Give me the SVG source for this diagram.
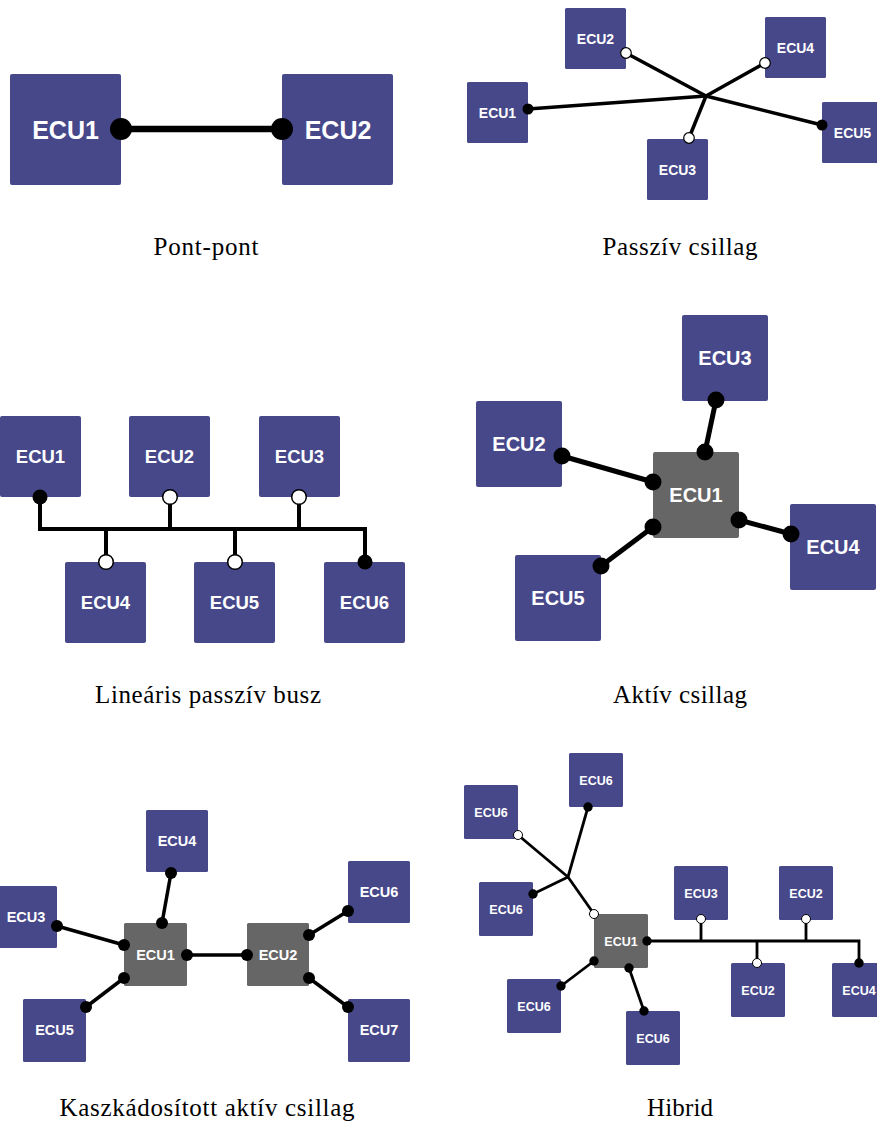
<svg xmlns="http://www.w3.org/2000/svg" width="877" height="1122" viewBox="0 0 877 1122">
  <style>
    .ecu { fill: #47488a; }
    .hub { fill: #666666; }
    .lbl { font-family: "Liberation Sans", Arial, sans-serif; font-weight: bold; fill: #ffffff; text-anchor: middle; }
    .cap { font-family: "Liberation Serif", "Times New Roman", serif; font-size: 25px; fill: #000000; text-anchor: middle; }
    .wire { stroke: #000000; fill: none; stroke-linecap: butt; stroke-linejoin: miter; }
    .on { fill: #000000; }
    .off { fill: #ffffff; stroke: #000000; }
  </style>
  <rect width="877" height="1122" fill="#ffffff"/>

  <!-- Point-to-point -->
  <g id="point-to-point">
    <g id="pp-ecu1"><rect class="ecu" x="10" y="74" width="111" height="111" rx="2"/><text class="lbl" x="65.5" y="138.5" font-size="25">ECU1</text></g>
    <g id="pp-ecu2"><rect class="ecu" x="282" y="74" width="111" height="111" rx="2"/><text class="lbl" x="338" y="138.5" font-size="25">ECU2</text></g>
    <g id="pp-connectors">
      <line class="wire" x1="121" y1="129" x2="282" y2="129" stroke-width="6.5"/>
      <circle class="on" cx="121" cy="129" r="11"/>
      <circle class="on" cx="282" cy="129" r="11"/>
    </g>
    <text class="cap" x="206" y="255" textLength="105">Pont-pont</text>
  </g>

  <!-- Passive star -->
  <g id="passive-star">
    <g id="ps-ecu2"><rect class="ecu" x="565" y="8" width="61" height="61" rx="1.5"/><text class="lbl" x="595.5" y="43.5" font-size="14">ECU2</text></g>
    <g id="ps-ecu4"><rect class="ecu" x="765" y="17" width="61" height="61" rx="1.5"/><text class="lbl" x="795.5" y="52.5" font-size="14">ECU4</text></g>
    <g id="ps-ecu1"><rect class="ecu" x="467" y="82" width="61" height="61" rx="1.5"/><text class="lbl" x="497.5" y="117.5" font-size="14">ECU1</text></g>
    <g id="ps-ecu5"><rect class="ecu" x="822" y="102" width="61" height="61" rx="1.5"/><text class="lbl" x="852.5" y="137.5" font-size="14">ECU5</text></g>
    <g id="ps-ecu3"><rect class="ecu" x="647" y="139" width="61" height="61" rx="1.5"/><text class="lbl" x="677.5" y="174.5" font-size="14">ECU3</text></g>
    <g id="ps-connectors" stroke-width="3.5">
      <line class="wire" x1="528" y1="109" x2="706" y2="96"/>
      <line class="wire" x1="626" y1="53" x2="706" y2="96"/>
      <line class="wire" x1="765" y1="63" x2="706" y2="96"/>
      <line class="wire" x1="689" y1="138" x2="706" y2="96"/>
      <line class="wire" x1="822" y1="125" x2="706" y2="96"/>
      <circle class="on" cx="528" cy="109" r="5.5" stroke="none"/>
      <circle class="off" cx="626" cy="53" r="5.3" stroke-width="1.2"/>
      <circle class="off" cx="765" cy="63" r="5.3" stroke-width="1.2"/>
      <circle class="off" cx="689" cy="138" r="5.3" stroke-width="1.2"/>
      <circle class="on" cx="822" cy="125" r="5.5" stroke="none"/>
    </g>
    <text class="cap" x="680" y="255" textLength="155">Passzív csillag</text>
  </g>

  <!-- Linear passive bus -->
  <g id="linear-bus">
    <g id="lb-ecu1"><rect class="ecu" x="0" y="416" width="81" height="81" rx="2"/><text class="lbl" x="40.5" y="463" font-size="18.5">ECU1</text></g>
    <g id="lb-ecu2"><rect class="ecu" x="129" y="416" width="81" height="81" rx="2"/><text class="lbl" x="169.5" y="463" font-size="18.5">ECU2</text></g>
    <g id="lb-ecu3"><rect class="ecu" x="259" y="416" width="81" height="81" rx="2"/><text class="lbl" x="299.5" y="463" font-size="18.5">ECU3</text></g>
    <g id="lb-ecu4"><rect class="ecu" x="65" y="562" width="81" height="81" rx="2"/><text class="lbl" x="105.5" y="609" font-size="18.5">ECU4</text></g>
    <g id="lb-ecu5"><rect class="ecu" x="194" y="562" width="81" height="81" rx="2"/><text class="lbl" x="234.5" y="609" font-size="18.5">ECU5</text></g>
    <g id="lb-ecu6"><rect class="ecu" x="324" y="562" width="81" height="81" rx="2"/><text class="lbl" x="364.5" y="609" font-size="18.5">ECU6</text></g>
    <g id="lb-connectors" stroke-width="4">
      <path class="wire" d="M40,497 V529 H365 V562"/>
      <line class="wire" x1="170" y1="497" x2="170" y2="529"/>
      <line class="wire" x1="299" y1="497" x2="299" y2="529"/>
      <line class="wire" x1="106" y1="529" x2="106" y2="562"/>
      <line class="wire" x1="235" y1="529" x2="235" y2="562"/>
      <circle class="on" cx="40" cy="497" r="7.5" stroke="none"/>
      <circle class="off" cx="170" cy="497" r="7.3" stroke-width="1.5"/>
      <circle class="off" cx="299" cy="497" r="7.3" stroke-width="1.5"/>
      <circle class="off" cx="106" cy="562" r="7.3" stroke-width="1.5"/>
      <circle class="off" cx="235" cy="562" r="7.3" stroke-width="1.5"/>
      <circle class="on" cx="365" cy="562" r="7.5" stroke="none"/>
    </g>
    <text class="cap" x="208" y="703" textLength="226">Lineáris passzív busz</text>
  </g>

  <!-- Active star -->
  <g id="active-star">
    <g id="as-ecu3"><rect class="ecu" x="682" y="315" width="86" height="86" rx="2"/><text class="lbl" x="725" y="365" font-size="20">ECU3</text></g>
    <g id="as-ecu2"><rect class="ecu" x="476" y="401" width="86" height="86" rx="2"/><text class="lbl" x="519" y="451" font-size="20">ECU2</text></g>
    <g id="as-ecu1"><rect class="hub" x="653" y="452" width="86" height="86" rx="2"/><text class="lbl" x="696" y="502" font-size="20">ECU1</text></g>
    <g id="as-ecu4"><rect class="ecu" x="790" y="504" width="86" height="86" rx="2"/><text class="lbl" x="833" y="554" font-size="20">ECU4</text></g>
    <g id="as-ecu5"><rect class="ecu" x="515" y="555" width="86" height="86" rx="2"/><text class="lbl" x="558" y="605" font-size="20">ECU5</text></g>
    <g id="as-connectors" stroke-width="5">
      <line class="wire" x1="716" y1="400" x2="705" y2="452"/>
      <line class="wire" x1="562" y1="456" x2="653" y2="482"/>
      <line class="wire" x1="739" y1="520" x2="791" y2="534"/>
      <line class="wire" x1="653" y1="527" x2="601" y2="566"/>
      <circle class="on" cx="716" cy="400" r="8.5"/>
      <circle class="on" cx="705" cy="452" r="8.5"/>
      <circle class="on" cx="562" cy="456" r="8.5"/>
      <circle class="on" cx="653" cy="482" r="8.5"/>
      <circle class="on" cx="739" cy="520" r="8.5"/>
      <circle class="on" cx="791" cy="534" r="8.5"/>
      <circle class="on" cx="653" cy="527" r="8.5"/>
      <circle class="on" cx="601" cy="566" r="8.5"/>
    </g>
    <text class="cap" x="680" y="703" textLength="134">Aktív csillag</text>
  </g>

  <!-- Cascaded active star -->
  <g id="cascaded-star">
    <g id="cs-ecu4"><rect class="ecu" x="146" y="810" width="62" height="62" rx="1.5"/><text class="lbl" x="177" y="846" font-size="14.5">ECU4</text></g>
    <g id="cs-ecu3"><rect class="ecu" x="-5" y="886" width="62" height="62" rx="1.5"/><text class="lbl" x="26" y="922" font-size="14.5">ECU3</text></g>
    <g id="cs-ecu1"><rect class="hub" x="124" y="923" width="63" height="63" rx="1.5"/><text class="lbl" x="155.5" y="959.5" font-size="14.5">ECU1</text></g>
    <g id="cs-ecu2"><rect class="hub" x="247" y="923" width="62" height="63" rx="1.5"/><text class="lbl" x="278" y="959.5" font-size="14.5">ECU2</text></g>
    <g id="cs-ecu6"><rect class="ecu" x="348" y="861" width="62" height="62" rx="1.5"/><text class="lbl" x="379" y="897" font-size="14.5">ECU6</text></g>
    <g id="cs-ecu5"><rect class="ecu" x="23" y="999" width="63" height="63" rx="1.5"/><text class="lbl" x="54.5" y="1035" font-size="14.5">ECU5</text></g>
    <g id="cs-ecu7"><rect class="ecu" x="348" y="999" width="62" height="63" rx="1.5"/><text class="lbl" x="379" y="1035" font-size="14.5">ECU7</text></g>
    <g id="cs-connectors" stroke-width="3.5">
      <line class="wire" x1="171" y1="873" x2="162" y2="923"/>
      <line class="wire" x1="57" y1="926" x2="124" y2="945"/>
      <line class="wire" x1="187" y1="955" x2="247" y2="955"/>
      <line class="wire" x1="124" y1="978" x2="86" y2="1007"/>
      <line class="wire" x1="309" y1="935" x2="348" y2="911"/>
      <line class="wire" x1="309" y1="978" x2="348" y2="1007"/>
      <circle class="on" cx="171" cy="873" r="6"/>
      <circle class="on" cx="162" cy="923" r="6"/>
      <circle class="on" cx="57" cy="926" r="6"/>
      <circle class="on" cx="124" cy="945" r="6"/>
      <circle class="on" cx="187" cy="955" r="6"/>
      <circle class="on" cx="247" cy="955" r="6"/>
      <circle class="on" cx="124" cy="978" r="6"/>
      <circle class="on" cx="86" cy="1007" r="6"/>
      <circle class="on" cx="309" cy="935" r="6"/>
      <circle class="on" cx="348" cy="911" r="6"/>
      <circle class="on" cx="309" cy="978" r="6"/>
      <circle class="on" cx="348" cy="1007" r="6"/>
    </g>
    <text class="cap" x="207" y="1116" textLength="295">Kaszkádosított aktív csillag</text>
  </g>

  <!-- Hybrid -->
  <g id="hybrid">
    <g id="hy-ecu6-a"><rect class="ecu" x="569" y="753" width="54" height="54" rx="1.5"/><text class="lbl" x="596" y="784.5" font-size="12.5">ECU6</text></g>
    <g id="hy-ecu6-b"><rect class="ecu" x="464" y="785" width="54" height="54" rx="1.5"/><text class="lbl" x="491" y="816.5" font-size="12.5">ECU6</text></g>
    <g id="hy-ecu6-c"><rect class="ecu" x="479" y="882" width="54" height="54" rx="1.5"/><text class="lbl" x="506" y="913.5" font-size="12.5">ECU6</text></g>
    <g id="hy-ecu1"><rect class="hub" x="594" y="914" width="54" height="54" rx="1.5"/><text class="lbl" x="621" y="945.5" font-size="12.5">ECU1</text></g>
    <g id="hy-ecu3"><rect class="ecu" x="674" y="866" width="54" height="54" rx="1.5"/><text class="lbl" x="701" y="897.5" font-size="12.5">ECU3</text></g>
    <g id="hy-ecu2-a"><rect class="ecu" x="779" y="866" width="54" height="54" rx="1.5"/><text class="lbl" x="806" y="897.5" font-size="12.5">ECU2</text></g>
    <g id="hy-ecu2-b"><rect class="ecu" x="731" y="963" width="54" height="54" rx="1.5"/><text class="lbl" x="758" y="994.5" font-size="12.5">ECU2</text></g>
    <g id="hy-ecu4"><rect class="ecu" x="832" y="963" width="54" height="54" rx="1.5"/><text class="lbl" x="859" y="994.5" font-size="12.5">ECU4</text></g>
    <g id="hy-ecu6-d"><rect class="ecu" x="507" y="979" width="54" height="54" rx="1.5"/><text class="lbl" x="534" y="1010.5" font-size="12.5">ECU6</text></g>
    <g id="hy-ecu6-e"><rect class="ecu" x="626" y="1011" width="54" height="54" rx="1.5"/><text class="lbl" x="653" y="1042.5" font-size="12.5">ECU6</text></g>
    <g id="hy-connectors" stroke-width="2.8">
      <line class="wire" x1="518" y1="835" x2="568" y2="877"/>
      <line class="wire" x1="588" y1="807" x2="568" y2="877"/>
      <line class="wire" x1="533" y1="894" x2="568" y2="877"/>
      <line class="wire" x1="594" y1="914" x2="568" y2="877"/>
      <path class="wire" d="M647,941 H859 V963"/>
      <line class="wire" x1="701" y1="919" x2="701" y2="941"/>
      <line class="wire" x1="806" y1="919" x2="806" y2="941"/>
      <line class="wire" x1="757" y1="941" x2="757" y2="963"/>
      <line class="wire" x1="594" y1="961" x2="561" y2="986"/>
      <line class="wire" x1="629" y1="968" x2="644" y2="1011"/>
      <circle class="off" cx="518" cy="835" r="4.5" stroke-width="1"/>
      <circle class="on" cx="588" cy="807" r="4.7" stroke="none"/>
      <circle class="on" cx="533" cy="894" r="4.7" stroke="none"/>
      <circle class="off" cx="594" cy="914" r="4.5" stroke-width="1"/>
      <circle class="on" cx="647" cy="941" r="4.7" stroke="none"/>
      <circle class="off" cx="701" cy="919" r="4.5" stroke-width="1"/>
      <circle class="off" cx="806" cy="919" r="4.5" stroke-width="1"/>
      <circle class="off" cx="757" cy="963" r="4.5" stroke-width="1"/>
      <circle class="on" cx="859" cy="963" r="4.7" stroke="none"/>
      <circle class="on" cx="594" cy="961" r="4.7" stroke="none"/>
      <circle class="on" cx="561" cy="986" r="4.7" stroke="none"/>
      <circle class="on" cx="629" cy="968" r="4.7" stroke="none"/>
      <circle class="on" cx="644" cy="1011" r="4.7" stroke="none"/>
    </g>
    <text class="cap" x="680" y="1116" textLength="66">Hibrid</text>
  </g>
</svg>
